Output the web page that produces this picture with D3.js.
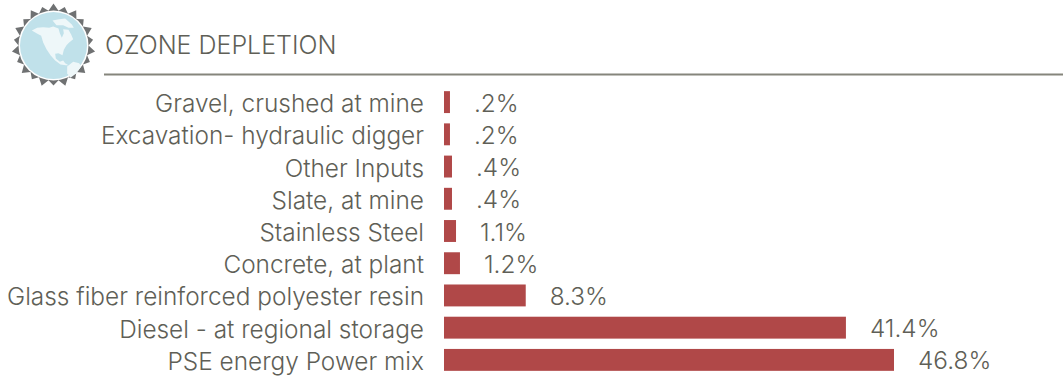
<!DOCTYPE html>
<html><head><meta charset="utf-8">
<script src="https://cdn.jsdelivr.net/npm/d3@7"></script>
<style>html,body{margin:0;padding:0;background:#fff}svg{display:block}
text{font-family:Inter,"Open Sans",sans-serif;font-weight:300;fill:#5f5f57}</style></head><body>
<script>
const categories=["Gravel, crushed at mine","Excavation- hydraulic digger","Other Inputs","Slate, at mine","Stainless Steel","Concrete, at plant","Glass fiber reinforced polyester resin","Diesel - at regional storage","PSE energy Power mix"];
const valueLabels=[".2%",".2%",".4%",".4%","1.1%","1.2%","8.3%","41.4%","46.8%"];
const drawnLengths=[0.62,0.62,0.83,0.83,1.25,1.66,8.5,41.8,46.8];
const title="OZONE DEPLETION";
const W=1063,H=377;
const svg=d3.select("body").append("svg").attr("width",W).attr("height",H);
const x=d3.scaleLinear().domain([0,46.8]).range([444,894]);
const y=d3.scaleBand().domain(categories).range([86,376]).paddingInner(0.32).paddingOuter(0.16);
// icon
const g=svg.append("g").attr("transform","translate(53.5,45.5)");
const spikes=d3.range(44).map(i=>[i/44*2*Math.PI,i%2?35:(i%4?40:42)]);
g.append("path").attr("d",d3.lineRadial().curve(d3.curveLinearClosed)(spikes)).attr("fill","#6f7172");
g.append("circle").attr("r",35).attr("fill","#fff");
g.append("circle").attr("r",33.5).attr("fill","#c0e1ea");
const land=g.append("g").attr("transform","scale(0.3333) translate(-131,-137)").attr("fill","#eef7f9");
land.append("path").attr("d","M66,92 L82,84 L100,82 L118,84 L130,80 L146,86 L150,100 L156,114 L162,100 L160,88 L176,90 L184,104 L190,118 L178,128 L170,136 L162,150 L158,166 L146,160 L136,162 L138,176 L150,186 L160,182 L166,190 L176,196 L168,196 L152,194 L136,182 L122,166 L110,148 L100,128 L94,108 L80,100 Z");
land.append("path").attr("d","M128,62 L148,58 L166,56 L186,74 L192,84 L176,84 L160,76 L140,76 Z");
land.append("path").attr("d","M172,200 L190,186 L208,190 L214,200 L200,220 L182,234 L172,220 Z");
// header
svg.append("text").attr("x",105).attr("y",54).attr("font-size",25).text(title);
svg.append("line").attr("x1",104).attr("x2",1063).attr("y1",74.5).attr("y2",74.5).attr("stroke","#85857c").attr("stroke-width",2);
// bars
const rows=svg.selectAll("g.row").data(categories).join("g").attr("class","row");
rows.append("rect").attr("x",x(0)).attr("y",d=>y(d)).attr("height",y.bandwidth())
 .attr("width",(d,i)=>x(drawnLengths[i])-x(0)).attr("fill","#b04848");
rows.append("text").attr("x",424).attr("y",d=>y(d)+y.bandwidth()/2+10).attr("text-anchor","end").attr("font-size",24.4).text(d=>d);
rows.append("text").attr("x",(d,i)=>x(drawnLengths[i])+24).attr("y",d=>y(d)+y.bandwidth()/2+9.5).attr("font-size",24.4).text((d,i)=>valueLabels[i]);
</script></body></html>
